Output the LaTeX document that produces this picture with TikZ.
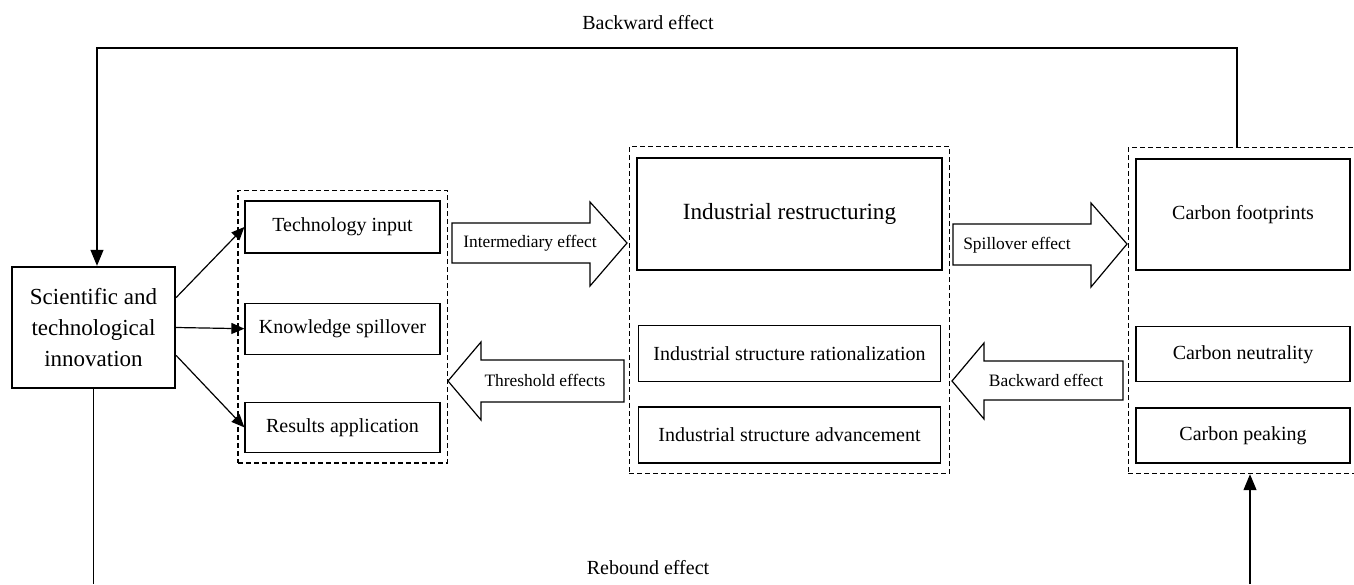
\documentclass[tikz,border=0pt]{standalone}
\usepackage{fontspec}
\setmainfont{Liberation Serif}
\usetikzlibrary{positioning,fit,arrows.meta}

\begin{document}
\begin{tikzpicture}[x=0.5pt, y=-0.5pt,
    box/.style={draw, line width=0.6pt, inner sep=0pt, font=\fontsize{10}{12}\selectfont},
    thickbox/.style={box, line width=1.2pt},
    group/.style={draw, dash pattern=on 2.5pt off 1.5pt, line width=0.6pt, inner xsep=3.25pt, inner ysep=5pt},
    fat/.style={draw, line width=0.6pt, fill=white},
    tag/.style={font=\fontsize{8.7}{10}\selectfont, inner sep=0pt},
    note/.style={font=\fontsize{10}{12}\selectfont, inner sep=0pt},
    link/.style={-{Triangle[length=6.5pt,width=5.5pt]}, line width=0.6pt},
    loop/.style={-{Triangle[length=8pt,width=6.5pt]}, line width=0.6pt}]
\useasboundingbox (0,0) rectangle (1354,584);

% source
\node[thickbox, align=center, font=\fontsize{11.5}{15.5}\selectfont,
      minimum width=81.5pt, minimum height=60.5pt] (sti) at (93.5,327.5)
      {Scientific and\\technological\\innovation};

% channels
\node[box, minimum width=97.5pt, minimum height=26pt] (techin) at (342.5,227) {Technology input};
\node[box, minimum width=97.5pt, minimum height=25.5pt, below=24.5pt of techin] (knowsp) {Knowledge spillover};
\node[box, minimum width=97.5pt, minimum height=25pt, below=23.5pt of knowsp] (resapp) {Results application};
\node[group, fit=(techin) (resapp)] (techgrp) {};

% industry
\node[thickbox, font=\fontsize{11.6}{14}\selectfont, minimum width=152.5pt, minimum height=56pt] (indres) at (789.5,214) {Industrial restructuring};
\node[box, minimum width=151pt, minimum height=28pt, below=27pt of indres] (indrat) {Industrial structure rationalization};
\node[box, minimum width=151pt, minimum height=28pt, below=12pt of indrat] (indadv) {Industrial structure advancement};
\node[group, fit=(indres) (indadv)] (indgrp) {};

% carbon
\node[thickbox, minimum width=107pt, minimum height=55.5pt] (cfoot) at (1243,214.5) {Carbon footprints};
\node[box, minimum width=107pt, minimum height=27.5pt, below=27.5pt of cfoot] (cneut) {Carbon neutrality};
\node[box, minimum width=107pt, minimum height=27.5pt, below=12.5pt of cneut] (cpeak) {Carbon peaking};
\node[group, fit=(cfoot) (cpeak)] (carbgrp) {};

\draw[link] ([yshift=15pt]sti.east) -- (techin.west);
\draw[link] (sti.east) -- (knowsp.west);
\draw[link] ([yshift=-14pt]sti.east) -- (resapp.west);

% block arrows
\draw[fat] (452,223) -- (590,223) -- (590,202) -- (627,243) -- (590,286) -- (590,263) -- (452,263) -- cycle;
\node[tag] (interlbl) at (530,243) {Intermediary effect};
\draw[fat] (624,360) -- (481,360) -- (481,342) -- (448,381) -- (481,420) -- (481,402) -- (624,402) -- cycle;
\node[tag] (threslbl) at (545,380) {Threshold effects};
\draw[fat] (953,224) -- (1091,224) -- (1091,203) -- (1127,244) -- (1091,287) -- (1091,265) -- (953,265) -- cycle;
\node[tag] (spilllbl) at (1017,245) {Spillover effect};
\draw[fat] (1123,361) -- (984,361) -- (984,343) -- (952,381) -- (984,419) -- (984,400) -- (1123,400) -- cycle;
\node[tag] (backlbl) at (1046,380) {Backward effect};

% feedback loops
\node[note] (toplbl) at (648,23) {Backward effect};
\coordinate (backtop) at (1237,48);
\draw[loop] (backtop |- carbgrp.north) -- (backtop) -| ([xshift=1.75pt]sti.north);

\node[note] (reblbl) at (648,568) {Rebound effect};
\coordinate (botleft) at (94,584);
\coordinate (botright) at (1250,584);
\draw[line width=0.6pt] (sti.south) -- (sti.south |- botleft);
\draw[loop] (botright) -- (botright |- carbgrp.south);
\end{tikzpicture}
\end{document}
